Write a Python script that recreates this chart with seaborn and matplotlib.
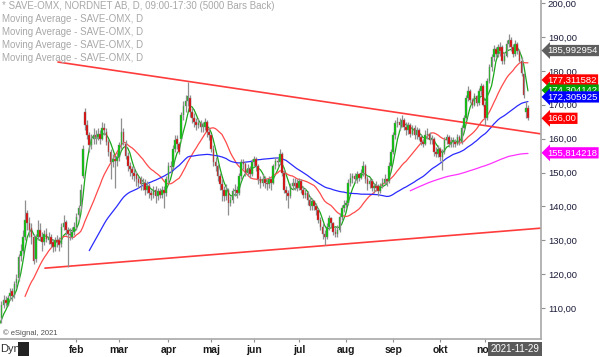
import numpy as np
import pandas as pd
import seaborn as sns
import matplotlib.pyplot as plt
from matplotlib.transforms import blended_transform_factory
from matplotlib.patches import Rectangle

sns.set_style('white')
plt.rcParams['font.family'] = ['Liberation Sans', 'DejaVu Sans']

# daily bars, 2020-12-07 .. 2021-11-29 (bar index 0..246)
opens = [107, 111, 112.5, 111, 113.5, 115, 114, 117.5, 119, 125.5,
         127, 131, 138, 135, 133.5, 131, 124.5, 131, 133, 131,
         129.5, 132, 130, 131, 129.5, 128, 130, 130, 129, 134,
         135.5, 133, 132, 131, 132.5, 134, 137.5, 140, 149, 168,
         164, 161, 158, 160, 161, 160.5, 161.5, 160, 163, 162,
         159, 156, 153, 154, 153.5, 154.5, 158, 162, 158.5, 155,
         152, 151, 150, 149.5, 148, 148, 146.5, 147, 145, 146,
         144, 143.5, 145, 143, 144.5, 143.5, 145, 144, 148, 152,
         151.5, 157, 160, 158.5, 160, 167, 169.5, 171, 172, 168,
         166, 165, 164, 164.5, 163.5, 163.5, 165, 162, 161, 157,
         153, 152, 149, 146.5, 145, 143, 145, 141, 142, 144.5,
         145, 144, 149, 153, 152.5, 150, 151, 149.5, 153, 154,
         152, 148, 147, 148, 147, 146.5, 148, 147, 152, 153.5,
         153, 155.5, 150, 145, 144, 143, 146, 147, 147, 145.5,
         147.5, 145, 143.5, 144, 142, 140, 141.5, 140, 139, 136,
         134, 132, 131, 134, 136.5, 135, 132.5, 132, 133, 137,
         139.5, 140.5, 141, 147, 148.5, 149, 148, 149.5, 148.5, 150,
         152, 148, 146.5, 147.5, 145.5, 146, 146, 144.5, 146, 147,
         148, 147.5, 152, 156, 161, 164.5, 165, 164, 165.5, 163.5,
         162.5, 164, 161.5, 163, 161, 162.5, 160.5, 159, 158.5, 161,
         161.5, 159.5, 160, 156, 155.5, 157, 154.5, 156, 159.5, 160.5,
         158.5, 159, 159, 158.5, 160.5, 159, 163, 166, 172, 174,
         171.5, 170, 172.5, 170.5, 174, 175.5, 170, 166, 177, 181,
         184, 186.5, 185, 187, 187, 183, 184.5, 188, 189, 187,
         185, 188, 186, 183, 179, 168, 169]
highs = [112, 114, 113.5, 114, 116, 116, 118, 120, 126, 129,
         133, 142, 139, 137, 135, 132, 132, 136, 135, 132.5,
         133, 133.5, 132.5, 132, 130.5, 131, 131.5, 131, 135, 137.5,
         136, 134, 133.5, 134, 135.5, 138, 140.5, 146.5, 158, 169,
         165.5, 162, 161.5, 163, 162.5, 163, 162.5, 165, 164.5, 163,
         160, 157, 155.5, 155, 156, 159, 166, 163, 159.5, 156,
         153, 152, 151.5, 150.5, 149, 149, 148.5, 148, 147.5, 147,
         145, 146, 146, 145.5, 145.5, 146, 146, 149, 153, 153.5,
         158, 161, 161, 159, 168, 171, 173, 176.7, 173, 169,
         167.5, 166, 166, 165.5, 165, 166, 165.5, 163, 161.5, 158,
         154.5, 152.5, 150, 148, 146, 146.5, 145.5, 143, 145.5, 146.5,
         146, 150, 154, 154, 153, 152.5, 152, 154, 155, 154.5,
         152.5, 149, 149.5, 149, 148, 149, 148.5, 152.5, 154.5, 154.5,
         157, 156, 151, 146, 145, 147, 148.5, 148.5, 148, 148.5,
         148, 146, 145.5, 144.5, 143, 142.5, 142, 141, 139.5, 137,
         135, 133, 135, 137.5, 137, 135.5, 134, 134.5, 138, 140.5,
         142, 142, 148, 150, 150, 150, 150.5, 150, 151, 153.5,
         152.5, 149, 148.5, 148, 147, 147.5, 146.5, 147, 148.5, 149.5,
         148.5, 153, 157, 162, 165.5, 166.5, 166, 167, 166, 165,
         165, 164.5, 164, 164, 163.5, 163, 161.5, 160, 162.5, 163,
         162, 161, 160.5, 157.5, 158, 157.5, 157, 160.5, 161.5, 161,
         160.5, 160.5, 160, 161.5, 161, 164, 167, 173, 175.5, 174.5,
         172, 173.5, 173, 175, 176.5, 176, 171, 178, 182, 185,
         187.5, 187, 188, 188.5, 187.5, 185.5, 189, 191, 190, 188,
         189, 188.5, 186.5, 184, 179.5, 171, 170]
lows = [105.5, 110, 110.5, 110.5, 112.5, 112, 113, 116, 118, 124,
        126, 130, 133, 131, 129, 123, 123.5, 130, 130, 127,
        128.5, 129.5, 129, 128, 126.5, 127, 128, 127, 128, 133,
        131.5, 122, 130, 130.5, 131.5, 133, 136, 139, 148.5, 162.5,
        160, 156, 157, 158.5, 158.5, 159.5, 158.5, 159.5, 161, 158,
        155, 148, 151.5, 145.5, 152, 153.5, 157, 158, 154, 150.5,
        149, 148, 147.5, 146, 145.5, 145, 145, 143.5, 144, 142.5,
        142, 142.5, 141, 142, 142.5, 142.5, 139.5, 143, 147, 150,
        151, 156, 157, 155.5, 159.5, 165.5, 168, 169.5, 166.5, 164.5,
        163.5, 162.5, 163, 162, 162, 162.5, 160.5, 159.5, 156, 152,
        150.5, 147.5, 145, 141.6, 141.5, 142, 137.5, 140, 141, 143,
        142.5, 143.5, 148, 151, 149, 149, 148.5, 149, 152, 150.5,
        146.5, 145.5, 146, 145.5, 145, 145.5, 145, 146.5, 151, 151.5,
        152.5, 149, 144, 142, 139.5, 142.5, 145, 145, 144.5, 145,
        144, 142.5, 142.5, 140.5, 139, 139, 139, 137.5, 135, 133,
        130.5, 128.6, 130.5, 133, 134, 131.5, 131, 131, 132.5, 136,
        138.5, 139.5, 140.5, 146, 147, 147, 147, 147.5, 148, 149,
        147, 145, 145.5, 144.5, 144, 144.5, 143, 144, 145.5, 146.5,
        146, 147, 151.5, 155.5, 160, 163.5, 162.5, 163.5, 162.5, 161,
        161.5, 160.5, 161, 160, 160, 159.5, 158, 157.5, 158, 160,
        158.5, 158.5, 155, 154.5, 154.5, 153.5, 150.8, 155.5, 158.5, 157.5,
        157.5, 157.5, 157.5, 158, 158, 158.5, 162.5, 165.5, 171, 170.5,
        169, 169.5, 169.5, 170, 173, 169.5, 164, 165.5, 176.5, 180,
        183, 184, 184, 184.5, 182, 182, 184, 187, 186, 184,
        184.5, 185, 182.5, 178.5, 172, 166, 165.5]
closes = [111, 112.5, 111.5, 113, 114.5, 113.5, 117, 118.5, 125, 127,
          131, 136, 135, 133, 131, 124, 131, 133, 131, 129.5,
          132, 130.5, 131, 129, 128, 130, 129.5, 128.5, 134, 135,
          133, 132, 131.5, 132.5, 134, 137, 139.5, 145, 157, 164,
          161, 158, 160, 161, 160.5, 161.5, 160, 163, 162.5, 159,
          156, 153, 154, 153.5, 154.5, 158, 162, 159, 155, 152,
          151, 150, 149, 148, 147, 146.5, 147, 145, 146, 144,
          143.5, 145, 143, 144.5, 143.5, 145, 144, 148, 152, 151.5,
          157, 159.5, 158.5, 156, 167, 169.5, 171, 172.5, 168, 166,
          165, 164, 164.5, 163.5, 164, 165, 162, 161, 157, 153,
          152, 149, 146.5, 145, 143, 145, 141, 142, 144.5, 145,
          144, 149, 153, 152.5, 150, 151, 149.5, 153, 154, 152,
          148, 147, 148, 147, 146.5, 148, 147, 152, 153.5, 153,
          155.5, 150, 145, 144, 143, 146, 147, 146, 145.5, 147.5,
          145, 143.5, 144, 142, 140, 141.5, 140, 139, 136, 134,
          132, 131, 134, 136.5, 135, 132.5, 132, 133, 137, 139.5,
          140.5, 141, 147, 148.5, 149, 148, 149.5, 148.5, 150, 152,
          148, 146.5, 147.5, 145.5, 146, 145.5, 144.5, 146, 147, 148,
          147.5, 152, 156, 161, 164.5, 165, 164, 165.5, 163.5, 162.5,
          164, 161.5, 163, 161, 162.5, 160.5, 159, 158.5, 161, 161.5,
          159.5, 160, 156, 155.5, 157, 154.5, 156, 159.5, 160.5, 158.5,
          159, 159.5, 158.5, 160.5, 159, 163, 166, 172, 174, 171.5,
          170, 172.5, 170.5, 174, 175.5, 170, 166, 177, 181, 184,
          186.5, 185, 187, 186, 183, 184.5, 188, 189, 187, 185,
          188, 186, 183, 179.5, 173, 169, 166]
# closes before the visible window (only feed the averages)
early_closes = [104, 103.5, 105, 104, 104.5, 105.5, 106, 106]

ma_periods = [5, 20, 50, 200]
ma_colors = ['#1aa81a', '#ff4a4a', '#2a2aff', '#ff33ff']

month_names = ['feb', 'mar', 'apr', 'maj', 'jun', 'jul', 'aug', 'sep', 'okt', 'nov']
month_bars = [35, 55, 78, 98, 118, 139, 161, 183, 205, 226]

trend_hi_x = [26.4, 252.1]
trend_hi_y = [182.6, 161.4]
trend_lo_x = [20.3, 252.1]
trend_lo_y = [121.8, 133.6]

tag_values = [185.992954, 177.311582, 174.304142, 172.305925, 166.00, 155.814218]
tag_labels = ['185,992954', '177,311582', '174,304142', '172,305925', '166,00', '155,814218']
tag_colors = ['#5e5e5e', '#ff0000', '#00a000', '#0000ff', '#ff0000', '#ff00ff']

header = ['* SAVE-OMX, NORDNET AB, D, 09:00-17:30 (5000 Bars Back)',
          'Moving Average - SAVE-OMX, D', 'Moving Average - SAVE-OMX, D',
          'Moving Average - SAVE-OMX, D', 'Moving Average - SAVE-OMX, D']

n = len(closes)
df = pd.DataFrame({'bar': np.arange(-len(early_closes), n),
                   'close': early_closes + closes})
for p in ma_periods:
    df['ma%d' % p] = df['close'].rolling(p).mean()

fig = plt.figure(figsize=(6, 3.57), dpi=100)
ax = fig.add_axes([0, 18 / 357, 541 / 600, 339 / 357])

# moving averages
for p, c in zip(ma_periods, ma_colors):
    sns.lineplot(data=df, x='bar', y='ma%d' % p, color=c, linewidth=0.9, ax=ax)

# trend lines
ax.plot(trend_hi_x, trend_hi_y, color='#ff3b3b', lw=1.2)
ax.plot(trend_lo_x, trend_lo_y, color='#ff3b3b', lw=1.2)

# candles
x = np.arange(n)
o = np.array(opens)
h = np.array(highs)
l = np.array(lows)
c = np.array(closes)
ax.vlines(x, l, h, color='#8f8f8f', lw=0.9, zorder=3)
up = c >= o
body = np.maximum(np.abs(c - o), 0.2)
ax.bar(x[up], body[up], bottom=np.minimum(o, c)[up], width=0.75,
       color='#00c800', edgecolor='#808080', linewidth=0.3, zorder=4)
ax.bar(x[~up], body[~up], bottom=np.minimum(o, c)[~up], width=0.75,
       color='#e60000', edgecolor='#808080', linewidth=0.3, zorder=4)

ax.set_xlim(-0.7, 252.1)
ax.set_ylim(100.9, 200.9)
ax.set_xlabel('')
ax.set_ylabel('')

ax.yaxis.tick_right()
yt = list(range(110, 201, 10))
ax.set_yticks(yt)
ax.set_yticklabels(['%d,00' % v for v in yt])
ax.tick_params(axis='y', length=3, width=0.8, color='#909090', pad=2,
               labelsize=6.8, labelcolor='#1c1c3a', right=True, left=False)
ax.set_xticks(month_bars)
ax.set_xticklabels(month_names, fontweight='bold')
ax.tick_params(axis='x', length=2, width=0.8, color='#909090', pad=2,
               labelsize=7.5, labelcolor='#1a1a1a', bottom=True)

for s in ['top', 'left']:
    ax.spines[s].set_visible(False)
for s in ['right', 'bottom']:
    ax.spines[s].set_color('#a8a8a8')
    ax.spines[s].set_linewidth(1.2)

# value tags at the right
tr = blended_transform_factory(ax.transAxes, ax.transData)
for v, lab, col in zip(tag_values, tag_labels, tag_colors):
    ax.text(1.012, v, lab, transform=tr, ha='left', va='center', fontsize=6.8,
            color='white', clip_on=False, zorder=10,
            bbox=dict(boxstyle='larrow,pad=0.12', fc=col, ec='none'))

for k, t in enumerate(header):
    fig.text(0.003, 1 - (6 + 13 * k) / 357, t, fontsize=7, color='#a8a8a8',
             ha='left', va='center')
fig.text(0.005, 1 - 333 / 357, '\u00a9 eSignal, 2021', fontsize=5.5,
         color='#505050', ha='left', va='center')

fig.text(0.0, 1 - 349 / 357, 'Dyn', fontsize=8, color='#303030',
         ha='left', va='center')
fig.patches.append(Rectangle((18 / 600, 1 - 356 / 357), 11 / 600, 14 / 357,
                             transform=fig.transFigure, fc='#222222', ec='none'))
fig.text(515 / 600, 1 - 349 / 357, '2021-11-29', fontsize=7, color='white',
         ha='center', va='center',
         bbox=dict(boxstyle='square,pad=0.25', fc='#5a5a5a', ec='none'))

fig.savefig('out.png', dpi=100)
